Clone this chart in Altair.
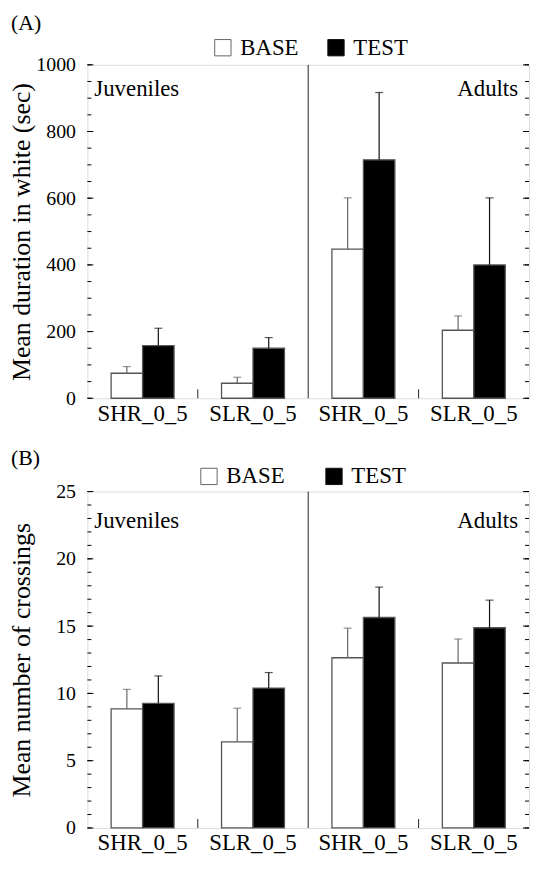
import altair as alt
import pandas as pd

# ---------------- data ----------------
group_keys = ["J:SHR_0_5", "J:SLR_0_5", "A:SHR_0_5", "A:SLR_0_5"]
conditions = ["BASE", "TEST"]

dur_base = [75, 45, 447, 204]
dur_base_top = [95, 63, 601, 247]
dur_test = [158, 150, 715, 400]
dur_test_top = [210, 182, 917, 601]

cross_base = [8.85, 6.4, 12.65, 12.26]
cross_base_top = [10.3, 8.9, 14.85, 14.04]
cross_test = [9.26, 10.4, 15.64, 14.88]
cross_test_top = [11.3, 11.55, 17.9, 16.93]

FONT = "Liberation Serif"
W = 445


def make_df(base, base_top, test, test_top):
    rows = []
    for g, b, bt, t, tt in zip(group_keys, base, base_top, test, test_top):
        rows.append({"grp": g, "cond": "BASE", "mean": b, "top": bt})
        rows.append({"grp": g, "cond": "TEST", "mean": t, "top": tt})
    return pd.DataFrame(rows)


def panel(df, ymax, major, minor, ytitle, letter, H, title_pad, text_y,
          letter_y, leg_x, leg_y, leg_pad):
    xenc = alt.X(
        "grp:N", sort=group_keys,
        scale=alt.Scale(paddingInner=0.43, paddingOuter=0.215),
        axis=alt.Axis(title=None, labelExpr="substring(datum.label, 2)", labelAngle=0,
                      ticks=False, domain=False, labelFont=FONT, labelFontSize=23,
                      labelColor="black", labelPadding=4),
    )
    xoff = alt.XOffset("cond:N", sort=conditions,
                       scale=alt.Scale(paddingInner=0, paddingOuter=0))
    yscale = alt.Scale(domain=[0, ymax], nice=False, zero=True)
    yenc = alt.Y(
        "mean:Q", scale=yscale,
        axis=alt.Axis(values=list(range(0, ymax + 1, major)), format="d", ticks=False,
                      domain=False, grid=False, labelFont=FONT, labelFontSize=20,
                      labelColor="black", labelPadding=12, title=ytitle, titleFont=FONT,
                      titleFontSize=26, titleFontWeight="normal", titleColor="black",
                      titlePadding=title_pad),
    )

    base = alt.Chart(df)
    bars = base.mark_bar(stroke="#555", strokeWidth=1.3).encode(
        x=xenc, xOffset=xoff, y=yenc,
        fill=alt.Fill("cond:N", sort=conditions,
                      scale=alt.Scale(domain=conditions, range=["white", "black"]),
                      legend=alt.Legend(title=None, orient="none", legendX=leg_x, legendY=leg_y,
                                        direction="horizontal", symbolType="square",
                                        symbolSize=270, symbolStrokeColor="black",
                                        symbolStrokeWidth=1, labelFont=FONT,
                                        labelFontSize=23, labelColor="black",
                                        columnPadding=leg_pad, labelOffset=6, padding=0)),
    )
    err = base.mark_rule(strokeWidth=1.2).encode(
        x=xenc, xOffset=xoff, y=alt.Y("mean:Q", scale=yscale), y2="top:Q",
        stroke=alt.Stroke("cond:N", scale=alt.Scale(domain=conditions, range=["#666", "#111"]),
                          legend=None),
    )
    caps = base.mark_tick(thickness=1.2, size=8).encode(
        x=xenc, xOffset=xoff, y=alt.Y("top:Q", scale=yscale),
        color=alt.Color("cond:N", scale=alt.Scale(domain=conditions, range=["#666", "#111"]),
                        legend=None),
    )

    major_df = pd.DataFrame({"mean": list(range(0, ymax + 1, major))})
    minor_df = pd.DataFrame({"mean": list(range(0, ymax + 1, minor))})
    tick_layers = []
    for d, ln in ((major_df, 6), (minor_df, 4)):
        tick_layers.append(alt.Chart(d).mark_rule(color="black", strokeWidth=1).encode(
            x=alt.value(0), x2=alt.value(ln), y=alt.Y("mean:Q", scale=yscale)))
        tick_layers.append(alt.Chart(d).mark_rule(color="black", strokeWidth=1).encode(
            x=alt.value(W - ln), x2=alt.value(W), y=alt.Y("mean:Q", scale=yscale)))

    one = pd.DataFrame({"label": ["Juveniles"]})
    two = pd.DataFrame({"label": ["Adults"]})
    lab = pd.DataFrame({"label": [letter]})
    divider = alt.Chart(one).mark_rule(color="#222", strokeWidth=1).encode(
        x=alt.value(W / 2), y=alt.value(0), y2=alt.value(H))
    sep1 = alt.Chart(one).mark_rule(color="#222", strokeWidth=1).encode(
        x=alt.value(W / 4), y=alt.value(H - 9), y2=alt.value(H))
    sep2 = alt.Chart(one).mark_rule(color="#222", strokeWidth=1).encode(
        x=alt.value(3 * W / 4), y=alt.value(H - 9), y2=alt.value(H))
    t1 = alt.Chart(one).mark_text(font=FONT, fontSize=23, align="left", baseline="middle",
                                  color="black").encode(
        x=alt.value(7), y=alt.value(text_y), text="label:N")
    t2 = alt.Chart(two).mark_text(font=FONT, fontSize=23, align="right", baseline="middle",
                                  color="black").encode(
        x=alt.value(W - 11), y=alt.value(text_y), text="label:N")
    t3 = alt.Chart(lab).mark_text(font=FONT, fontSize=22, align="left", baseline="middle",
                                  color="black").encode(
        x=alt.value(-77), y=alt.value(letter_y), text="label:N")

    return alt.layer(bars, err, caps, *tick_layers, divider, sep1, sep2, t1, t2, t3).properties(
        width=W, height=H,
    )


dfA = make_df(dur_base, dur_base_top, dur_test, dur_test_top)
dfB = make_df(cross_base, cross_base_top, cross_test, cross_test_top)

A = panel(dfA, 1000, 200, 50, "Mean duration in white (sec)", "(A)", 336, 1, 24,
          -42, 125, -29, 26)
B = panel(dfB, 25, 5, 1, "Mean number of crossings", "(B)", 339, 21, 30,
          -34, 111, -27, 38)

chart = alt.vconcat(A, B, spacing=20).resolve_scale(
    x="independent", y="independent", fill="independent",
    stroke="independent", color="independent",
).resolve_legend(fill="independent").properties(
    padding={"left": 0, "top": 0, "right": 0, "bottom": 0}
).configure_view(
    stroke="#111", strokeWidth=1
).configure(background="white")

chart.save("out.html", embed_options={"renderer": "svg", "actions": False})
